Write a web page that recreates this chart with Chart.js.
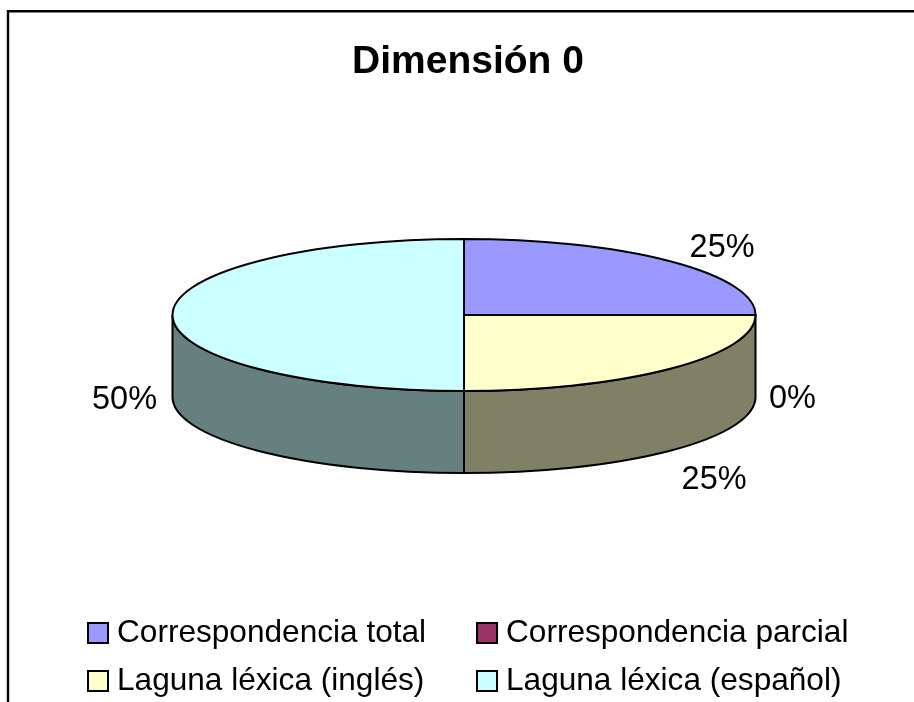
<!DOCTYPE html>
<html>
<head>
<meta charset="utf-8">
<style>html,body{margin:0;padding:0;background:#fff;overflow:hidden}canvas{display:block}</style>
<script src="https://cdn.jsdelivr.net/npm/chart.js@4"></script>
</head>
<body>
<canvas id="c" width="914" height="702"></canvas>
<script>
const titleText = 'Dimensión 0';
const categories = ['Correspondencia total', 'Correspondencia parcial', 'Laguna léxica (inglés)', 'Laguna léxica (español)'];
const values = [25, 0, 25, 50];
const colors = ['#9999FF', '#993366', '#FFFFCC', '#CCFFFF'];
const wallColors = ['#4D4D80', '#4D1A33', '#808066', '#668080'];

const FONT = '"Liberation Sans", Arial, sans-serif';
const RADIUS = 291.5, SQUASH = 76 / 291.5, DEPTH = 82;
const LABEL_NUDGE = [[52, -4], [37, 11], [44, 38], [-48, 12]];
const LEGEND_CELLS = [[88, 633], [477, 633], [88, 681], [477, 681]];

function tracePath(ctx, a, cx, cy) {
  ctx.beginPath();
  ctx.moveTo(cx, cy);
  ctx.arc(cx, cy, a.outerRadius, a.startAngle, a.endAngle);
  ctx.closePath();
}
function squash(ctx, cx, cy) {
  ctx.translate(cx, cy);
  ctx.scale(1, SQUASH);
  ctx.translate(-cx, -cy);
}
const pie3d = {
  id: 'pie3d',
  afterLayout(chart) {
    chart.titleBlock.left += 4;
    chart.titleBlock.right += 4;
  },
  beforeDraw(chart) {
    const ctx = chart.ctx;
    ctx.save();
    ctx.fillStyle = '#fff';
    ctx.fillRect(0, 0, chart.width, chart.height);
    ctx.strokeStyle = '#000';
    ctx.lineWidth = 2.4;
    ctx.beginPath();
    ctx.moveTo(8, 704); ctx.lineTo(8, 11.2); ctx.lineTo(916, 11.2);
    ctx.stroke();
    ctx.restore();
  },
  beforeDatasetsDraw(chart) {
    const ctx = chart.ctx;
    const arcs = chart.getDatasetMeta(0).data;
    const cx = arcs[0].x, cy = arcs[0].y;
    // side walls: only the front half of the rim
    arcs.forEach((a, i) => {
      const s = Math.max(a.startAngle, 0), e = Math.min(a.endAngle, Math.PI);
      if (e <= s) return;
      ctx.save();
      ctx.beginPath();
      const r = a.outerRadius, k = SQUASH;
      ctx.ellipse(cx, cy, r, r * k, 0, s, e);
      ctx.lineTo(cx + r * Math.cos(e), cy + r * k * Math.sin(e) + DEPTH);
      ctx.ellipse(cx, cy + DEPTH, r, r * k, 0, e, s, true);
      ctx.closePath();
      ctx.fillStyle = wallColors[i];
      ctx.fill();
      ctx.strokeStyle = '#000';
      ctx.lineWidth = 2;
      ctx.stroke();
      ctx.restore();
    });
    ctx.save();
    squash(ctx, cx, cy);
  },
  afterDatasetsDraw(chart) {
    const ctx = chart.ctx;
    ctx.restore();
    const arcs = chart.getDatasetMeta(0).data;
    const cx = arcs[0].x, cy = arcs[0].y;
    // top outlines with an unsquashed pen
    arcs.forEach(a => {
      ctx.save();
      squash(ctx, cx, cy);
      tracePath(ctx, a, cx, cy);
      ctx.restore();
      ctx.save();
      ctx.strokeStyle = '#000';
      ctx.lineWidth = 2;
      ctx.lineJoin = 'round';
      ctx.stroke();
      ctx.restore();
    });
    // percent labels
    const total = values.reduce((p, v) => p + v, 0);
    ctx.save();
    ctx.font = '32.5px ' + FONT;
    ctx.fillStyle = '#000';
    ctx.textAlign = 'center';
    ctx.textBaseline = 'alphabetic';
    arcs.forEach((a, i) => {
      const m = (a.startAngle + a.endAngle) / 2;
      const px = cx + a.outerRadius * Math.cos(m);
      let py = cy + a.outerRadius * SQUASH * Math.sin(m);
      if (Math.sin(m) >= 0 || Math.cos(m) < -0.99) py += DEPTH;
      ctx.fillText(Math.round(values[i] / total * 100) + '%', px + LABEL_NUDGE[i][0], py + LABEL_NUDGE[i][1]);
    });
    ctx.restore();
    // two-column legend
    ctx.save();
    ctx.font = '31.6px ' + FONT;
    ctx.textAlign = 'left';
    ctx.textBaseline = 'alphabetic';
    categories.forEach((t, i) => {
      const [x, y] = LEGEND_CELLS[i];
      ctx.fillStyle = colors[i];
      ctx.fillRect(x, y - 10, 20, 20);
      ctx.strokeStyle = '#000';
      ctx.lineWidth = 2;
      ctx.strokeRect(x, y - 10, 20, 20);
      ctx.fillStyle = '#000';
      ctx.fillText(t, x + 29, y + 9);
    });
    ctx.restore();
  }
};

new Chart(document.getElementById('c'), {
  type: 'pie',
  data: {
    labels: categories,
    datasets: [{ data: values, backgroundColor: colors, borderWidth: 0, clip: false }]
  },
  options: {
    responsive: false,
    animation: false,
    radius: RADIUS,
    layout: { padding: { left: 14, right: 0, top: 0, bottom: 165 } },
    plugins: {
      legend: { display: false },
      tooltip: { enabled: false },
      title: {
        display: true,
        text: titleText,
        color: '#000',
        font: { family: FONT, size: 39, weight: 'bold', lineHeight: 1.2 },
        padding: { top: 38.5, bottom: 7.7 }
      }
    }
  },
  plugins: [pie3d]
});
</script>
</body>
</html>
